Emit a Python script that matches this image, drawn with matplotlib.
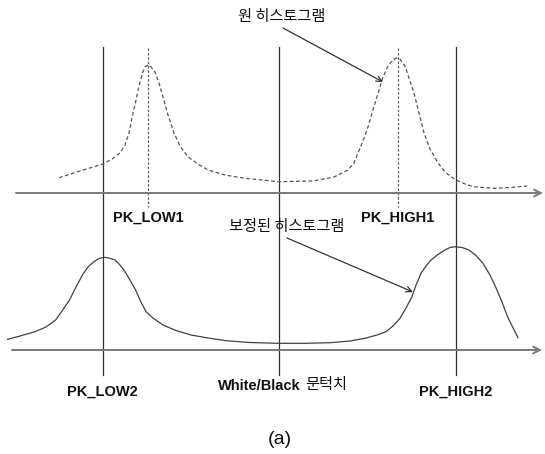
import matplotlib
matplotlib.use("Agg")
import matplotlib.pyplot as plt

# ---- data (pixel space of the diagram) ----
orig_x = [59, 80, 103, 112, 120, 125, 129, 132, 136, 139, 142.5, 145, 148, 151, 155, 159,
          163, 168, 174, 180, 188, 198, 208, 225, 243, 278, 313, 334, 348, 354, 358, 363,
          368, 373, 379, 383, 387.5, 392, 396, 400, 405, 409, 414, 419, 424, 430, 438,
          446, 456, 465, 473, 494, 510, 527]
orig_y = [177.7, 171, 164, 159, 153, 145, 133, 118, 100, 86, 73, 67, 65, 67, 72, 83,
          97, 115, 133, 146, 157, 164, 170, 175, 178, 181.7, 181, 177, 170, 163, 153, 141,
          127, 110, 90, 77, 67, 61, 58, 59, 66, 78, 93, 113, 133, 149, 163,
          173, 180, 184, 186.7, 188.3, 187.5, 186]

corr_x = [7.6, 20, 35, 46, 55.6, 62, 69.5, 76, 83, 88, 94, 99, 104, 109, 115, 120, 125,
          130, 135.6, 140, 146, 153, 163, 176, 191, 208, 226, 250, 278, 305, 330, 350,
          365, 377, 386, 393, 400, 406, 412, 416, 421, 426, 431, 438, 445, 450, 455, 462,
          469, 476, 483, 490, 497, 502, 507.5, 518]
corr_y = [339.3, 336, 331.7, 327, 320, 311, 300, 287, 274, 267, 261.7, 258.5, 257.3, 258,
          260, 265, 271.7, 280, 290, 300, 311.7, 318, 325, 330.5, 335, 338, 340.7, 342.5,
          343.3, 343.3, 342.7, 341, 338.3, 335, 331.7, 326, 318.3, 308, 296.7, 285, 273.3,
          266, 260, 254.5, 250, 247.5, 246.7, 247.5, 250, 255.5, 263.3, 275, 290, 302,
          316.7, 337.7]

solid_marks = [103, 279, 456]
dashed_marks = [148, 398]
top_labels = ["PK_LOW1", "PK_HIGH1"]
bottom_labels = ["PK_LOW2", "White/Black", "PK_HIGH2"]
orig_title = "원 히스토그램"
corr_title = "보정된 히스토그램"
thresh_kor = "문턱치"
caption = "(a)"

fig = plt.figure(figsize=(5.45, 4.54), dpi=100)
ax = fig.add_axes([0, 0, 1, 1])
ax.set_xlim(0, 545)
ax.set_ylim(454, 0)
ax.axis("off")

kfont = ["Noto Sans CJK KR", "DejaVu Sans"]
lfont = ["Liberation Sans", "DejaVu Sans"]

# axes with arrows
for (x0, x1, y) in [(16, 543, 193), (12, 542, 350)]:
    ax.annotate("", xy=(x1, y), xytext=(x0, y),
                arrowprops=dict(arrowstyle="->", color="#7a7a7a", lw=1.4,
                                shrinkA=0, shrinkB=0, mutation_scale=12))

# vertical marker lines
for x in solid_marks:
    ax.plot([x, x], [47, 375], color="#303030", lw=0.9)
for x in dashed_marks:
    ax.plot([x, x], [48, 207], color="#606060", lw=0.9, ls=(0, (2, 1.5)))

# curves
ax.plot(orig_x, orig_y, color="#555555", lw=0.9, ls=(0, (3, 2)))
ax.plot(corr_x, corr_y, color="#404040", lw=0.9)

# labels
for x, t in zip(dashed_marks, top_labels):
    ax.text(x, 218, t, ha="center", va="center", fontsize=10.5, fontweight="bold",
            family=lfont, color="#111111")
ax.text(102.5, 392, bottom_labels[0], ha="center", va="center", fontsize=10.5,
        fontweight="bold", family=lfont, color="#111111")
ax.text(456, 392, bottom_labels[2], ha="center", va="center", fontsize=10.5,
        fontweight="bold", family=lfont, color="#111111")
ax.text(301, 386, bottom_labels[1], ha="right", va="center", fontsize=10.5,
        fontweight="bold", family=lfont, color="#111111")
ax.text(305, 385, thresh_kor, ha="left", va="center", fontsize=11,
        family=kfont, color="#111111")

ax.text(282, 17, orig_title, ha="center", va="center", fontsize=11, family=kfont,
        color="#111111")
ax.text(287, 227, corr_title, ha="center", va="center", fontsize=11, family=kfont,
        color="#111111")

# annotation arrows
ax.annotate("", xy=(383, 82), xytext=(283, 28),
            arrowprops=dict(arrowstyle="->", color="#333333", lw=0.9,
                            shrinkA=0, shrinkB=0, mutation_scale=10))
ax.annotate("", xy=(413, 292), xytext=(287, 238),
            arrowprops=dict(arrowstyle="->", color="#333333", lw=0.9,
                            shrinkA=0, shrinkB=0, mutation_scale=10))

ax.text(280, 440, caption, ha="center", va="center", fontsize=14, family=lfont,
        color="#111111")

fig.savefig("out.png", dpi=100)
